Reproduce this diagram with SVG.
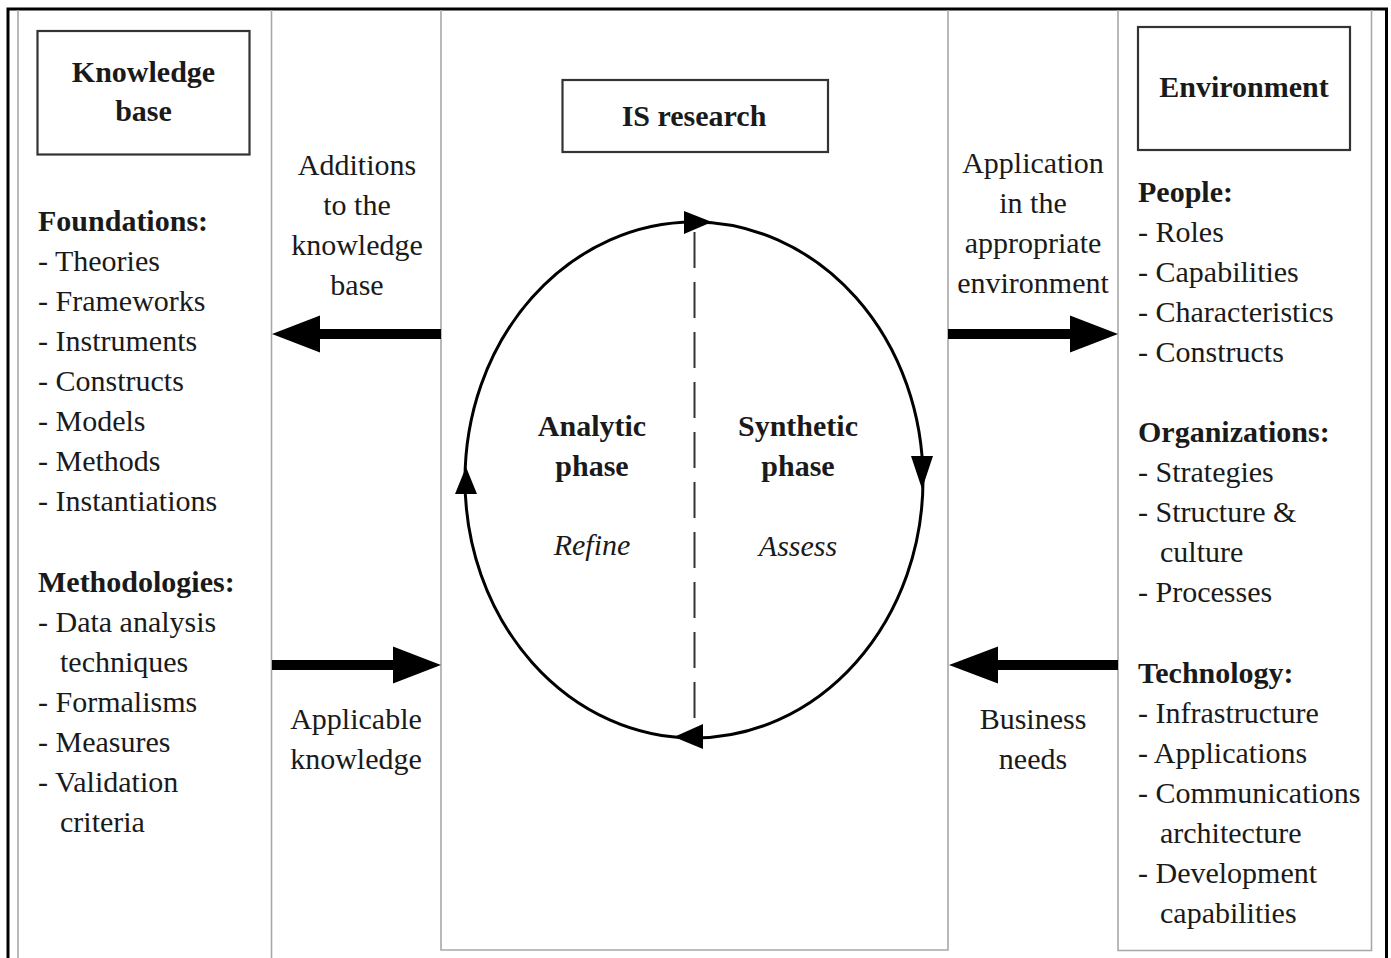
<svg xmlns="http://www.w3.org/2000/svg" width="1391" height="958" viewBox="0 0 1391 958">
  <style>
    text { font-family: "Liberation Serif", "Times New Roman", serif; font-size: 30px; fill: #1a1a1a; }
    .b { font-weight: bold; }
    .i { font-style: italic; }
    .m { text-anchor: middle; }
    .col { fill: none; stroke: #a8a8a8; stroke-width: 1.6; }
    .box { fill: #fff; stroke: #333; stroke-width: 2.2; }
    .thick { stroke: #000; stroke-width: 10; fill: none; }
    .head { fill: #000; }
  </style>

  <rect width="1391" height="958" fill="#fff"/>

  <!-- outer frame (open at the bottom) -->
  <path d="M8,958 V9 H1386.5 V958" fill="none" stroke="#000" stroke-width="3"/>

  <!-- three column panels -->
  <g id="columns">
    <path class="col" d="M18,958 V10 M271.5,10 V958"/>
    <path class="col" d="M441,10 V950 H948 V10"/>
    <path class="col" d="M1118,10 V950.5 H1371.5 V10"/>
  </g>

  <!-- knowledge base -->
  <g id="knowledge-base">
    <rect class="box" x="37.5" y="31" width="212" height="123.5"/>
    <text class="b m" x="143.5" y="82">Knowledge</text>
    <text class="b m" x="143.5" y="121">base</text>
    <text class="b" x="38" y="231">Foundations:</text>
    <text x="38" y="271">- Theories</text>
    <text x="38" y="311">- Frameworks</text>
    <text x="38" y="351">- Instruments</text>
    <text x="38" y="391">- Constructs</text>
    <text x="38" y="431">- Models</text>
    <text x="38" y="471">- Methods</text>
    <text x="38" y="511">- Instantiations</text>
    <text class="b" x="38" y="592">Methodologies:</text>
    <text x="38" y="632">- Data analysis</text>
    <text x="60" y="672">techniques</text>
    <text x="38" y="712">- Formalisms</text>
    <text x="38" y="752">- Measures</text>
    <text x="38" y="792">- Validation</text>
    <text x="60" y="832">criteria</text>
  </g>

  <!-- environment -->
  <g id="environment">
    <rect class="box" x="1138" y="27" width="212" height="123"/>
    <text class="b m" x="1244" y="97">Environment</text>
    <text class="b" x="1138" y="202">People:</text>
    <text x="1138" y="242">- Roles</text>
    <text x="1138" y="282">- Capabilities</text>
    <text x="1138" y="322">- Characteristics</text>
    <text x="1138" y="362">- Constructs</text>
    <text class="b" x="1138" y="442">Organizations:</text>
    <text x="1138" y="482">- Strategies</text>
    <text x="1138" y="522">- Structure &amp;</text>
    <text x="1160" y="562">culture</text>
    <text x="1138" y="602">- Processes</text>
    <text class="b" x="1138" y="683">Technology:</text>
    <text x="1138" y="723">- Infrastructure</text>
    <text x="1138" y="763">- Applications</text>
    <text x="1138" y="803">- Communications</text>
    <text x="1160" y="843">architecture</text>
    <text x="1138" y="883">- Development</text>
    <text x="1160" y="923">capabilities</text>
  </g>

  <!-- IS research -->
  <g id="is-research">
    <rect class="box" x="562.5" y="80" width="265.5" height="72"/>
    <text class="b m" x="694" y="126">IS research</text>

    <!-- research cycle -->
    <ellipse cx="694" cy="480" rx="229" ry="258" fill="none" stroke="#000" stroke-width="3"/>
    <line x1="694.5" y1="232" x2="694.5" y2="730" stroke="#333" stroke-width="2" stroke-dasharray="36 14"/>
    <polygon class="head" points="712,222 684,211 684,234"/>
    <polygon class="head" points="922,489 911,456 933,456"/>
    <polygon class="head" points="674,737 703,724 703,749"/>
    <polygon class="head" points="466,467 455,494 477,494"/>

    <text class="b m" x="592" y="436">Analytic</text>
    <text class="b m" x="592" y="476">phase</text>
    <text class="i m" x="592" y="555">Refine</text>
    <text class="b m" x="798" y="436">Synthetic</text>
    <text class="b m" x="798" y="476">phase</text>
    <text class="i m" x="798" y="556">Assess</text>
  </g>

  <!-- flows between the panels -->
  <g id="connectors">
    <line class="thick" x1="441" y1="334" x2="318" y2="334"/>
    <polygon class="head" points="272,334 320,315.5 320,352.5"/>

    <line class="thick" x1="948" y1="334" x2="1072" y2="334"/>
    <polygon class="head" points="1118,334 1070,315.5 1070,352.5"/>

    <line class="thick" x1="272" y1="665" x2="396" y2="665"/>
    <polygon class="head" points="441,665 393,646.5 393,683.5"/>

    <line class="thick" x1="1118" y1="665" x2="996" y2="665"/>
    <polygon class="head" points="949,665 998,646.5 998,683.5"/>
  </g>

  <g id="labels">
    <text class="m" x="357" y="175">Additions</text>
    <text class="m" x="357" y="215">to the</text>
    <text class="m" x="357" y="255">knowledge</text>
    <text class="m" x="357" y="295">base</text>

    <text class="m" x="1033" y="173">Application</text>
    <text class="m" x="1033" y="213">in the</text>
    <text class="m" x="1033" y="253">appropriate</text>
    <text class="m" x="1033" y="293">environment</text>

    <text class="m" x="356" y="729">Applicable</text>
    <text class="m" x="356" y="769">knowledge</text>

    <text class="m" x="1033" y="729">Business</text>
    <text class="m" x="1033" y="769">needs</text>
  </g>
</svg>
